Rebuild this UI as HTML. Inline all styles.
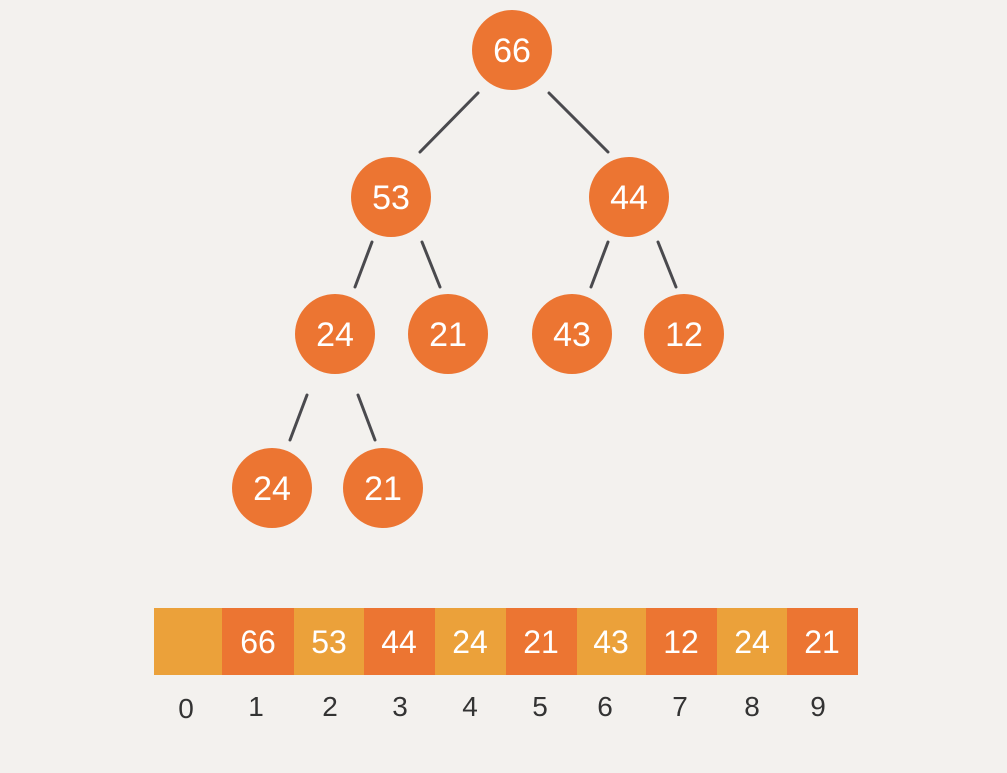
<!DOCTYPE html>
<html><head><meta charset="utf-8"><style>
body{margin:0;background:#F3F1EE;}
svg{display:block}
</style></head><body>
<svg width="1007" height="773" xmlns="http://www.w3.org/2000/svg">
<rect width="1007" height="773" fill="#F3F1EE"/>
<g stroke="#4a4a4e" stroke-width="3" stroke-linecap="round">
<line x1="478" y1="93" x2="420" y2="152"/>
<line x1="549" y1="93" x2="608" y2="152"/>
<line x1="372" y1="242" x2="355" y2="287"/>
<line x1="422" y1="242" x2="440" y2="287"/>
<line x1="608" y1="242" x2="591" y2="287"/>
<line x1="658" y1="242" x2="676" y2="287"/>
<line x1="307" y1="395" x2="290" y2="440"/>
<line x1="358" y1="395" x2="375" y2="440"/>
</g>
<g fill="#EC7532">
<circle cx="512" cy="50" r="40"/>
<circle cx="391" cy="197" r="40"/>
<circle cx="629" cy="197" r="40"/>
<circle cx="335" cy="334" r="40"/>
<circle cx="448" cy="334" r="40"/>
<circle cx="572" cy="334" r="40"/>
<circle cx="684" cy="334" r="40"/>
<circle cx="272" cy="488" r="40"/>
<circle cx="383" cy="488" r="40"/>
</g>
<g fill="#fff" font-family="Liberation Sans, sans-serif" font-size="34" text-anchor="middle">
<text x="512" y="62">66</text>
<text x="391" y="209">53</text>
<text x="629" y="209">44</text>
<text x="335" y="346">24</text>
<text x="448" y="346">21</text>
<text x="572" y="346">43</text>
<text x="684" y="346">12</text>
<text x="272" y="500">24</text>
<text x="383" y="500">21</text>
</g>
<rect x="154" y="608" width="68" height="67" fill="#EBA13A"/>
<rect x="222" y="608" width="72" height="67" fill="#EC7532"/>
<rect x="294" y="608" width="70" height="67" fill="#EBA13A"/>
<rect x="364" y="608" width="71" height="67" fill="#EC7532"/>
<rect x="435" y="608" width="71" height="67" fill="#EBA13A"/>
<rect x="506" y="608" width="71" height="67" fill="#EC7532"/>
<rect x="577" y="608" width="69" height="67" fill="#EBA13A"/>
<rect x="646" y="608" width="71" height="67" fill="#EC7532"/>
<rect x="717" y="608" width="70" height="67" fill="#EBA13A"/>
<rect x="787" y="608" width="71" height="67" fill="#EC7532"/>
<g fill="#fff" font-family="Liberation Sans, sans-serif" font-size="32" text-anchor="middle">
<text x="258" y="653">66</text>
<text x="329" y="653">53</text>
<text x="399" y="653">44</text>
<text x="470" y="653">24</text>
<text x="541" y="653">21</text>
<text x="611" y="653">43</text>
<text x="681" y="653">12</text>
<text x="752" y="653">24</text>
<text x="822" y="653">21</text>
</g>
<g fill="#333" font-family="Liberation Sans, sans-serif" font-size="28" text-anchor="middle">
<text x="186" y="718">0</text>
<text x="256" y="716">1</text>
<text x="330" y="716">2</text>
<text x="400" y="716">3</text>
<text x="470" y="716">4</text>
<text x="540" y="716">5</text>
<text x="605" y="716">6</text>
<text x="680" y="716">7</text>
<text x="752" y="716">8</text>
<text x="818" y="716">9</text>
</g>
</svg>
</body></html>
